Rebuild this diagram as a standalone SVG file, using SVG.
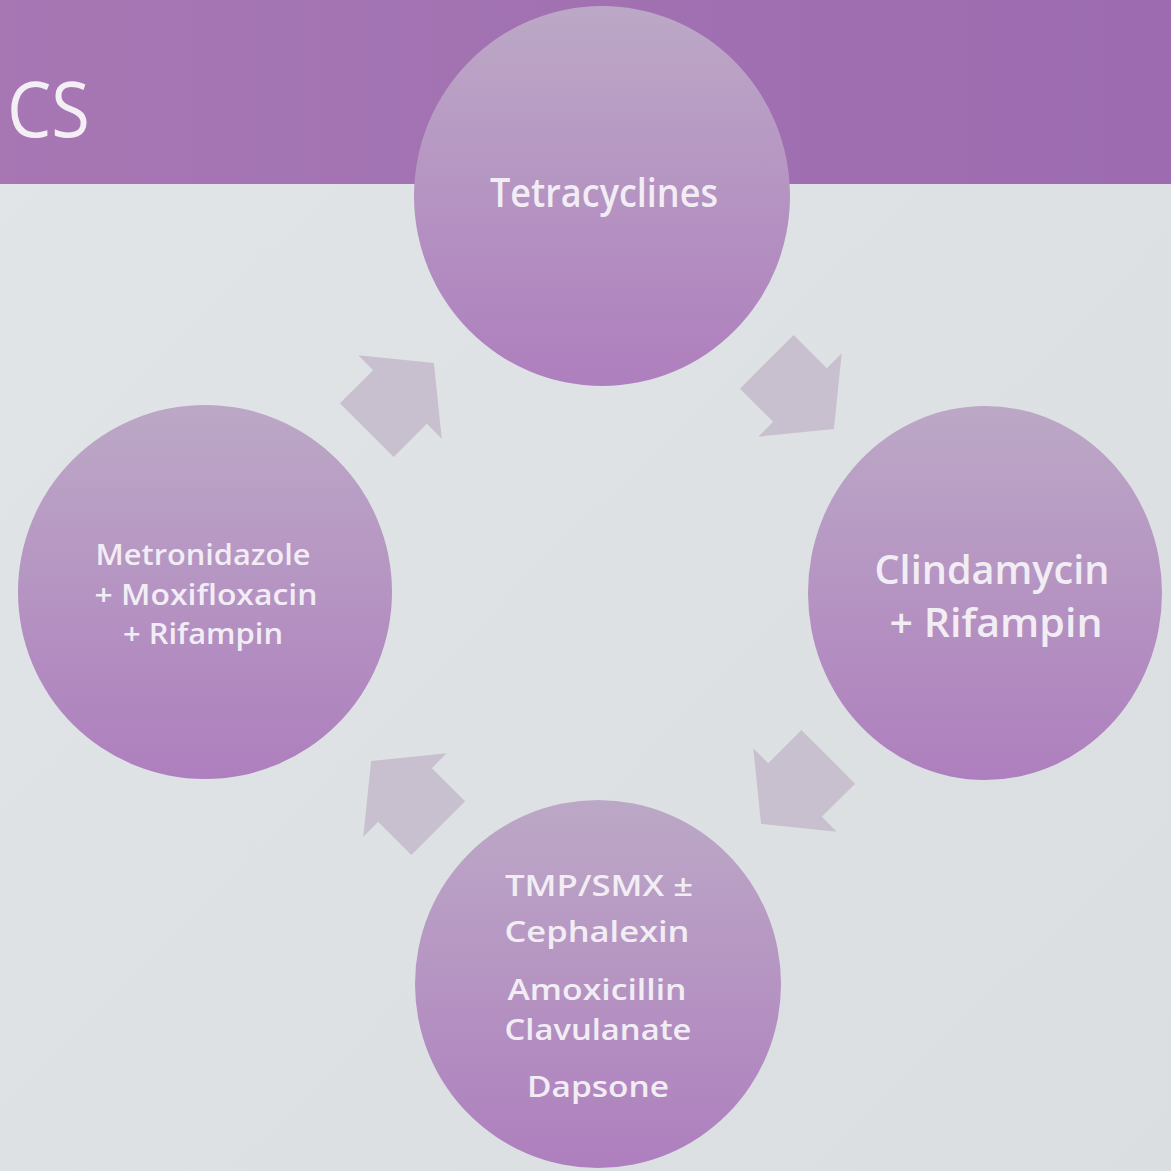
<svg xmlns="http://www.w3.org/2000/svg" width="1171" height="1171" viewBox="0 0 1171 1171">
<style>
.lbl{font-family:"Open Sans",Lato,"Liberation Sans",sans-serif;font-weight:600;fill:#f2edf4;text-anchor:middle}
.arrow{fill:#c8c0cf}
.circ{fill:url(#cg)}
</style>
<defs>
<linearGradient id="bg" x1="0" y1="0" x2="1" y2="1">
<stop offset="0" stop-color="#e2e5e8"/>
<stop offset="1" stop-color="#dadee1"/>
</linearGradient>
<linearGradient id="hd" x1="0" y1="0" x2="1" y2="0">
<stop offset="0" stop-color="#a677b3"/>
<stop offset="1" stop-color="#9c6bb0"/>
</linearGradient>
<linearGradient id="cg" x1="0" y1="0" x2="0" y2="1">
<stop offset="0" stop-color="#bca8c6"/>
<stop offset="1" stop-color="#ae7fbe"/>
</linearGradient>
<polygon id="arr" points="-47,-38 0,-38 0,-59 48,0 0,59 0,38 -47,38"/>
</defs>
<rect x="0" y="0" width="1171" height="1171" fill="url(#bg)"/>
<rect x="0" y="0" width="1171" height="184" fill="url(#hd)"/>
<text x="7" y="137" font-family="'Open Sans',Lato,'Liberation Sans',sans-serif" font-size="76" fill="#f4eff5" textLength="83" lengthAdjust="spacingAndGlyphs">CS</text>
<g id="connectors">
<use href="#arr" class="arrow" transform="translate(800,395) rotate(45)"/>
<use href="#arr" class="arrow" transform="translate(795,790) rotate(135)"/>
<use href="#arr" class="arrow" transform="translate(405,795) rotate(225)"/>
<use href="#arr" class="arrow" transform="translate(400,397) rotate(-45)"/>
</g>
<g id="node-tetracyclines">
<ellipse class="circ" cx="602" cy="196" rx="188" ry="190"/>
<text class="lbl" x="604" y="207" font-size="40" textLength="228" lengthAdjust="spacingAndGlyphs">Tetracyclines</text>
</g>
<g id="node-clindamycin">
<ellipse class="circ" cx="985" cy="593" rx="177" ry="187"/>
<text class="lbl" x="992" y="584" font-size="39" textLength="235" lengthAdjust="spacingAndGlyphs">Clindamycin</text>
<text class="lbl" x="996" y="637" font-size="39" textLength="213" lengthAdjust="spacingAndGlyphs">+ Rifampin</text>
</g>
<g id="node-sulfa">
<ellipse class="circ" cx="598" cy="984" rx="183" ry="184"/>
<text class="lbl" x="599" y="896" font-size="29" textLength="188" lengthAdjust="spacingAndGlyphs">TMP/SMX ±</text>
<text class="lbl" x="597" y="942" font-size="29" textLength="185" lengthAdjust="spacingAndGlyphs">Cephalexin</text>
<text class="lbl" x="597" y="1000" font-size="29" textLength="179" lengthAdjust="spacingAndGlyphs">Amoxicillin</text>
<text class="lbl" x="598" y="1040" font-size="29" textLength="187" lengthAdjust="spacingAndGlyphs">Clavulanate</text>
<text class="lbl" x="598" y="1097" font-size="29" textLength="142" lengthAdjust="spacingAndGlyphs">Dapsone</text>
</g>
<g id="node-metronidazole">
<ellipse class="circ" cx="205" cy="592" rx="187" ry="187"/>
<text class="lbl" x="203" y="565" font-size="28" textLength="215" lengthAdjust="spacingAndGlyphs">Metronidazole</text>
<text class="lbl" x="206" y="605" font-size="28" textLength="223" lengthAdjust="spacingAndGlyphs">+ Moxifloxacin</text>
<text class="lbl" x="203" y="644" font-size="28" textLength="160" lengthAdjust="spacingAndGlyphs">+ Rifampin</text>
</g>
</svg>
